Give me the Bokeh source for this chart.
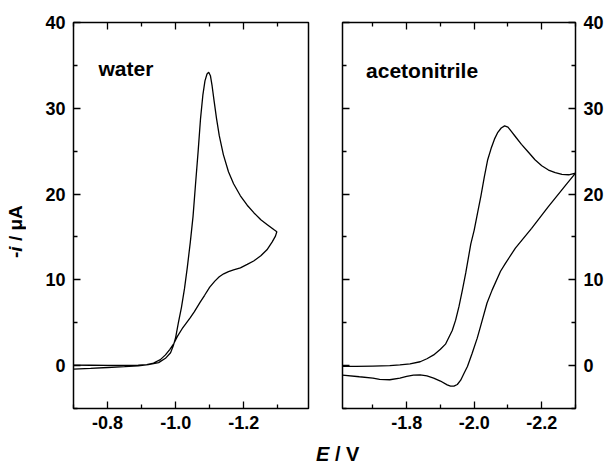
from bokeh.plotting import figure
from bokeh.layouts import row, column
from bokeh.models import (Range1d, LinearAxis, FixedTicker, CustomJSTickFormatter,
                          Label, NumeralTickFormatter, Div)
from bokeh.embed import file_html
from bokeh.resources import INLINE

FONT = "Liberation Sans"

# ---------------- data ----------------
water_E = [-0.70, -0.75, -0.80, -0.85, -0.89, -0.92, -0.95, -0.97, -0.985, -0.993,
           -1.000, -1.008, -1.017, -1.026, -1.034, -1.043, -1.051, -1.058, -1.066, -1.073,
           -1.080, -1.086, -1.092, -1.097, -1.102, -1.107, -1.113, -1.120, -1.128, -1.140,
           -1.155, -1.170, -1.190, -1.210, -1.230, -1.250, -1.270, -1.290, -1.297,
           -1.293, -1.283, -1.268, -1.250, -1.229, -1.210, -1.190, -1.170, -1.155, -1.141,
           -1.128, -1.115, -1.100, -1.085, -1.072, -1.055, -1.043, -1.030, -1.019, -1.005,
           -0.995, -0.983, -0.970, -0.955, -0.935, -0.915, -0.890, -0.850, -0.800, -0.750,
           -0.700]
water_I = [-0.40, -0.32, -0.22, -0.12, -0.02, 0.12, 0.35, 0.85, 1.5, 2.3,
           3.3, 5.0, 6.8, 9.0, 11.4, 14.4, 17.4, 21.0, 25.0, 28.8,
           31.6, 33.2, 34.0, 34.2, 33.8, 32.6, 30.8, 28.8, 26.8, 24.6,
           22.6, 21.2, 19.8, 18.7, 17.8, 17.0, 16.4, 15.8, 15.6,
           15.1, 14.4, 13.5, 12.8, 12.2, 11.8, 11.4, 11.15, 10.95, 10.7,
           10.35, 9.85, 9.15, 8.2, 7.4, 6.3, 5.6, 4.9, 4.3, 3.4,
           2.6, 1.9, 1.25, 0.7, 0.3, 0.12, 0.05, 0.02, 0.02, 0.04,
           0.05]

mecn_E = [-1.61, -1.65, -1.70, -1.75, -1.78, -1.81, -1.84, -1.86, -1.88, -1.90,
          -1.915, -1.935, -1.945, -1.955, -1.965, -1.975, -1.99, -2.00, -2.01, -2.02,
          -2.03, -2.04, -2.05, -2.06, -2.07, -2.08, -2.09, -2.10, -2.11, -2.12,
          -2.14, -2.16, -2.18, -2.20, -2.22, -2.24, -2.26, -2.28, -2.30,
          -2.268, -2.219, -2.170, -2.122, -2.092, -2.078, -2.053, -2.038, -2.019, -2.009,
          -1.994, -1.980, -1.970, -1.960, -1.950, -1.940, -1.930, -1.920, -1.900, -1.880,
          -1.860, -1.840, -1.820, -1.800, -1.780, -1.750, -1.720, -1.700, -1.660, -1.610]
mecn_I = [-0.10, -0.10, -0.05, 0.00, 0.08, 0.20, 0.45, 0.80, 1.25, 1.90,
          2.5, 4.1, 5.3, 6.9, 8.8, 10.8, 14.2, 15.8, 17.8, 19.8,
          22.0, 24.0, 25.3, 26.4, 27.2, 27.7, 27.95, 27.8, 27.3, 26.8,
          25.8, 24.9, 24.0, 23.3, 22.8, 22.5, 22.3, 22.25, 22.45,
          20.9, 18.5, 16.0, 13.7, 11.9, 11.0, 8.8, 7.3, 4.6, 3.2,
          1.45, -0.1, -0.9, -1.7, -2.2, -2.4, -2.4, -2.25, -1.8, -1.45,
          -1.2, -1.08, -1.1, -1.25, -1.45, -1.65, -1.6, -1.45, -1.3, -1.1]

y_major = [0, 10, 20, 30, 40]
y_minor = [-5, 5, 15, 25, 35]
water_x_major = [-0.8, -1.0, -1.2]
water_x_minor = [-0.7, -0.9, -1.1, -1.3]
mecn_x_major = [-1.8, -2.0, -2.2]
mecn_x_minor = [-1.7, -1.9, -2.1, -2.3]

TICK_FS = "18px"
FIG_H = 438


def style(ax, labels, standoff=8):
    ax.axis_line_color = None
    ax.major_tick_in = 7
    ax.major_tick_out = 0
    ax.minor_tick_in = 4
    ax.minor_tick_out = 0
    ax.major_tick_line_color = "black"
    ax.minor_tick_line_color = "black"
    ax.major_tick_line_width = 1.3
    ax.minor_tick_line_width = 1.3
    ax.major_label_text_font = FONT
    ax.major_label_text_font_style = "bold"
    ax.major_label_text_font_size = TICK_FS
    ax.major_label_text_color = "black"
    ax.major_label_standoff = standoff
    if not labels:
        ax.formatter = CustomJSTickFormatter(code="return ''")
        ax.major_label_standoff = 0


def make_fig(width, xr, border_left, border_right, y_side):
    p = figure(width=width, height=FIG_H, output_backend="svg", toolbar_location=None,
               x_range=xr, y_range=Range1d(-5, 40),
               x_axis_location="below", y_axis_location=y_side,
               min_border_left=border_left, min_border_right=border_right,
               min_border_top=22, min_border_bottom=FIG_H - 22 - 386)
    p.grid.visible = False
    p.outline_line_color = "black"
    p.outline_line_width = 1.5
    p.outline_line_alpha = 1.0
    p.background_fill_color = "white"
    p.border_fill_color = "white"
    return p


# ---------- left panel (water) ----------
p1 = make_fig(284, Range1d(-0.70, -1.39), 45, 4, "left")
p1.xaxis.ticker = FixedTicker(ticks=water_x_major, minor_ticks=water_x_minor)
p1.xaxis.formatter = NumeralTickFormatter(format="0.0")
p1.yaxis.ticker = FixedTicker(ticks=y_major, minor_ticks=y_minor)
style(p1.xaxis[0], True, 7)
style(p1.yaxis[0], True, 8)
top1 = LinearAxis(ticker=FixedTicker(ticks=water_x_major, minor_ticks=water_x_minor))
style(top1, False)
p1.add_layout(top1, "above")
p1.line(water_E, water_I, line_color="black", line_width=1.3)
p1.add_layout(Label(x=-0.7733, y=34.6, text="water", text_font=FONT,
                    text_font_style="bold", text_font_size="21px", text_color="black",
                    text_align="left", text_baseline="alphabetic"))

# ---------- right panel (acetonitrile) ----------
p2 = make_fig(294, Range1d(-1.61, -2.30), 30, 29, "right")
p2.xaxis.ticker = FixedTicker(ticks=mecn_x_major, minor_ticks=mecn_x_minor)
p2.xaxis.formatter = NumeralTickFormatter(format="0.0")
p2.yaxis.ticker = FixedTicker(ticks=y_major, minor_ticks=y_minor)
style(p2.xaxis[0], True, 7)
style(p2.yaxis[0], True, 8)
top2 = LinearAxis(ticker=FixedTicker(ticks=mecn_x_major, minor_ticks=mecn_x_minor))
style(top2, False)
p2.add_layout(top2, "above")
left2 = LinearAxis(ticker=FixedTicker(ticks=y_major, minor_ticks=y_minor))
style(left2, False)
p2.add_layout(left2, "left")
p2.line(mecn_E, mecn_I, line_color="black", line_width=1.3)
p2.add_layout(Label(x=-1.6798, y=34.4, text="acetonitrile", text_font=FONT,
                    text_font_style="bold", text_font_size="21px", text_color="black",
                    text_align="left", text_baseline="alphabetic"))

# ---------- axis titles (HTML, allows italic symbols) ----------
ylab_html = (
    '<div style="padding-top:203px; padding-left:6px;">'
    '<div style="writing-mode:vertical-rl; transform:rotate(180deg); height:55px; width:20px;'
    " font-family:'Liberation Sans'; font-weight:bold; font-size:19px; line-height:20px;"
    ' white-space:nowrap; color:black;">-<i>i</i> / \u03bcA</div></div>'
)
ydiv = Div(text=ylab_html, width=28, height=FIG_H, margin=0)

xlab_html = (
    '<div style="padding-top:6px; padding-left:316px;'
    " font-family:'Liberation Sans'; font-weight:bold; font-size:20px; line-height:20px;"
    ' white-space:nowrap; color:black;"><i>E</i> / V</div>'
)
xdiv = Div(text=xlab_html, width=606, height=465 - FIG_H, margin=0)

layout = column(row(ydiv, p1, p2), xdiv)
open("out.html", "w").write(file_html(layout, INLINE))
